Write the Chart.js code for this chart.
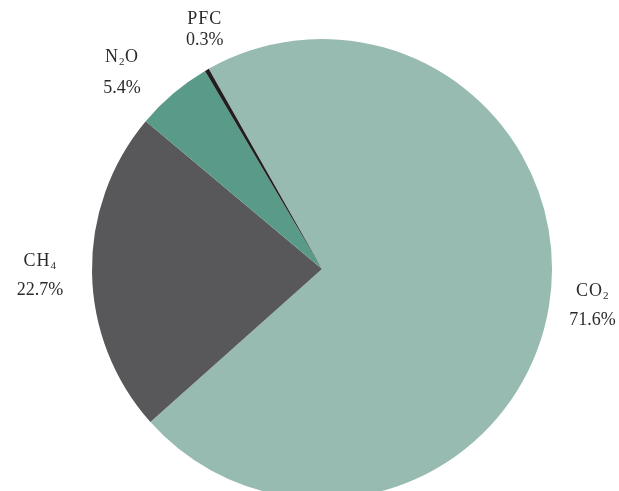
<!DOCTYPE html>
<html>
<head>
<meta charset="utf-8">
<script src="https://cdn.jsdelivr.net/npm/chart.js@4.4.1/dist/chart.umd.min.js"></script>
<style>
  html, body { margin: 0; padding: 0; background: #fff; overflow: hidden; }
  #wrap { position: absolute; left: 0; top: 0; width: 644px; height: 538px; }
</style>
</head>
<body>
<div id="wrap"><canvas id="pie"></canvas></div>
<script>
// gases, "_" marks the next char as a subscript
const gases = ['CO_2', 'CH_4', 'N_2O', 'PFC'];
const shares = [71.6, 22.7, 5.4, 0.3];
const colores = ['#97bab1', '#58585a', '#5a9a89', '#231f20'];

// where each label sits: distance from centre, angle nudge (deg), gap between lines
const labelPos = [
  { dist: 273, dAng: -1.6, gap: 29 },
  { dist: 282, dAng: -0.5, gap: 29 },
  { dist: 280, dAng: -5.3, gap: 31 },
  { dist: 266, dAng: 3.9, gap: 21 }
];

const FONT = '"Liberation Serif", "DejaVu Serif", serif';

// draws text with subscripts, centred on x
function textoSub(ctx, txt, x, y, size) {
  const partes = [];
  for (let i = 0; i < txt.length; i++) {
    if (txt[i] === '_') { partes.push({ t: txt[i + 1], sub: true }); i++; }
    else partes.push({ t: txt[i], sub: false });
  }
  let total = 0;
  partes.forEach(p => {
    ctx.font = (p.sub ? Math.round(size * 0.62) : size) + 'px ' + FONT;
    p.w = ctx.measureText(p.t).width + (p.sub ? 0.5 : 1);
    total += p.w;
  });
  let cx = x - total / 2;
  partes.forEach(p => {
    ctx.font = (p.sub ? Math.round(size * 0.62) : size) + 'px ' + FONT;
    ctx.fillText(p.t, cx, p.sub ? y + 5 : y);
    cx += p.w;
  });
}

const etiquetas = {
  id: 'etiquetas',
  afterDraw(chart) {
    const ctx = chart.ctx;
    const arcos = chart.getDatasetMeta(0).data;
    ctx.save();
    ctx.fillStyle = '#2b2b2b';
    ctx.textBaseline = 'middle';
    ctx.textAlign = 'left';
    arcos.forEach((arc, i) => {
      const pos = labelPos[i];
      const ang = (arc.startAngle + arc.endAngle) / 2 + pos.dAng * Math.PI / 180;
      const x = arc.x + Math.cos(ang) * pos.dist;
      const y = arc.y + Math.sin(ang) * pos.dist;
      textoSub(ctx, gases[i], x, y - pos.gap / 2, 18);
      ctx.font = '18px ' + FONT;
      const pct = shares[i].toFixed(1) + '%';
      const w = ctx.measureText(pct).width;
      ctx.fillText(pct, x - w / 2, y + pos.gap / 2);
    });
    ctx.restore();
  }
};

new Chart(document.getElementById('pie'), {
  type: 'pie',
  data: {
    labels: gases,
    datasets: [{
      data: shares,
      backgroundColor: colores,
      borderWidth: 0
    }]
  },
  options: {
    responsive: true,
    maintainAspectRatio: false,
    animation: false,
    rotation: -29.5,
    layout: { padding: 39 },
    plugins: {
      legend: { display: false },
      tooltip: { enabled: false }
    }
  },
  plugins: [etiquetas]
});
</script>
</body>
</html>
